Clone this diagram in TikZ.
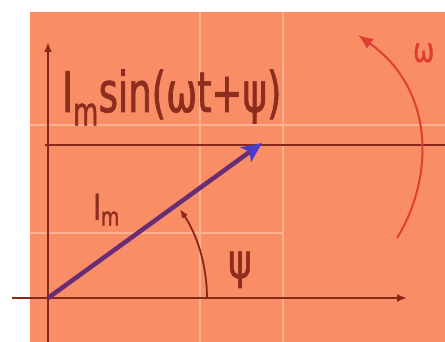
\documentclass[tikz,border=0pt]{standalone}
\usepackage{fontspec}
\setmainfont{DejaVu Sans}
\newfontfamily\narrowfont[FakeStretch=0.74,FakeBold=1.2]{DejaVu Sans}
\newfontfamily\narrowerfont[FakeStretch=0.66,FakeBold=1.2]{DejaVu Sans}
\usetikzlibrary{arrows.meta}
\definecolor{bgorange}{RGB}{249,141,102}
\definecolor{gridlight}{RGB}{252,178,146}
\definecolor{axiscol}{RGB}{135,40,25}
\definecolor{textcol}{RGB}{140,45,30}
\definecolor{vecshaft}{RGB}{105,45,115}
\definecolor{vechead}{RGB}{75,60,200}
\definecolor{omegacol}{RGB}{222,62,52}
\tikzset{
  gridline/.style={gridlight, line width=1.8pt},
  axisline/.style={axiscol, line width=2pt, -{Latex[length=10pt,width=8pt]}},
  lbl/.style={text=textcol, inner sep=0pt, font=\narrowfont},
}
\begin{document}
\begin{tikzpicture}[x=1pt,y=1pt]
\useasboundingbox (0,0) rectangle (445,342);
\fill[white] (0,0) rectangle (445,342);
\fill[bgorange] (30,0) rectangle (445,330);
% light grid
\draw[gridline] (200,0) -- (200,330);
\draw[gridline] (283,0) -- (283,330);
\draw[gridline] (30,217) -- (445,217);
\draw[gridline] (30,109) -- (283,109);
% coordinates
\coordinate (O) at (48,44);
\coordinate (xs) at (12,44);
\coordinate (xe) at (407,44);
\coordinate (ys) at (48,0);
\coordinate (ye) at (48,300);
\coordinate (hs) at (45,197);
\coordinate (he) at (445,197);
\coordinate (tip) at (262,199);
% level line
\draw[axiscol, line width=1.1pt] (hs) -- (he);
% axes
\draw[axisline] (xs) -- (xe);
\draw[axisline] (ys) -- (ye);
% vector
\draw[vecshaft, line width=4.5pt, -{Stealth[length=20pt,width=18pt,inset=5pt,color=vechead]}] (O) -- (tip);
% angle arc
\draw[axiscol, line width=1.8pt, -{Latex[length=9pt,width=7pt]}] ([shift={(0:159)}]O) arc[start angle=0, end angle=34, radius=159];
% omega arc
\coordinate (wa) at (397,104);
\coordinate (wb) at (358,307);
\draw[omegacol, line width=2pt, -{Latex[length=15pt,width=12pt]}] (wa) .. controls (432,160) and (438,250) .. (wb);
% labels
\node[lbl, anchor=base west, font=\narrowerfont\fontsize{56}{60}\selectfont] (eq) at (62,230) {I\textsubscript{m}sin(ωt+ψ)};
\node[lbl, anchor=base west, font=\narrowfont\fontsize{36}{40}\selectfont] (im) at (93,122) {I\textsubscript{m}};
\node[lbl, anchor=base, font=\narrowfont\fontsize{48}{52}\selectfont] (psi) at (240,64) {ψ};
\node[lbl, text=omegacol, anchor=base west, font=\narrowfont\fontsize{34}{38}\selectfont] (om) at (413,280) {ω};
\end{tikzpicture}
\end{document}
